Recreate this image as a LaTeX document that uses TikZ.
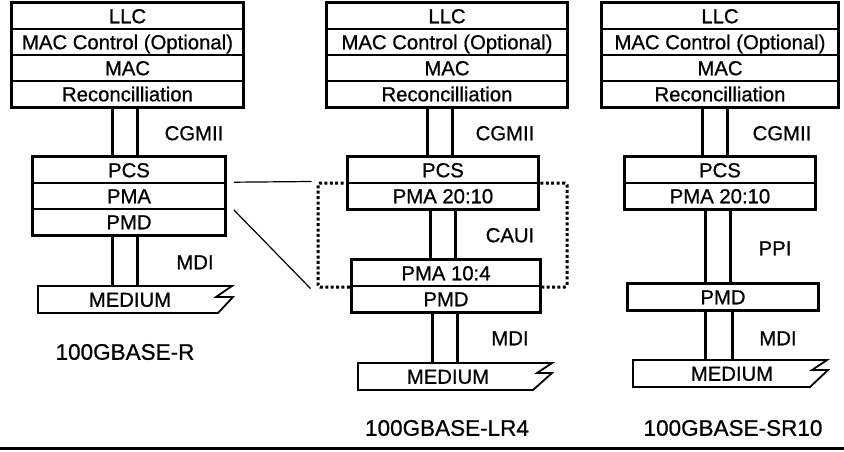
\documentclass[tikz,border=0pt]{standalone}
\usepackage{fontspec}
\setmainfont{Liberation Sans}
\newfontfamily\scanfont{Liberation Sans}[FakeBold=0.7]
\usetikzlibrary{calc}
\tikzset{
  lay/.style={draw, line width=1.6pt, fill=white, inner sep=0pt, minimum height=26pt,
    text height=14.5pt, text depth=0pt, font=\scanfont\fontsize{20.3}{21}\selectfont},
  stackframe/.style={draw, line width=3pt},
  lnk/.style={line width=3pt},
  lbl/.style={font=\scanfont\fontsize{20.3}{21}\selectfont, inner sep=0pt, text height=14.5pt, text depth=0pt},
  capt/.style={font=\scanfont\fontsize{22.5}{24}\selectfont, inner sep=0pt},
  medline/.style={line width=1.8pt, line join=miter},
  dotbox/.style={draw, line width=3pt, dash pattern=on 3pt off 2.4pt, rounded corners=2pt,
    minimum width=249pt, minimum height=104pt, inner sep=0pt},
  zoomline/.style={line width=1.2pt},
}
\begin{document}
\begin{tikzpicture}[x=1pt,y=-1pt]
\useasboundingbox (0,0) rectangle (844,451);

% ---------------- left column: 100GBASE-R ----------------
\node[lay, minimum width=231pt] (llc1)  at (127.5,16) {LLC};
\node[lay, minimum width=231pt] (macc1) at (127.5,42) {MAC Control (Optional)};
\node[lay, minimum width=231pt] (mac1)  at (127.5,68) {MAC};
\node[lay, minimum width=231pt] (rec1)  at (127.5,94) {Reconcilliation};
\draw[stackframe] (llc1.north west) rectangle (rec1.south east);

\node[lay, minimum width=192pt] (pcs1) at (129,170) {PCS};
\node[lay, minimum width=192pt] (pma1) at (129,196) {PMA};
\node[lay, minimum width=192pt] (pmd1) at (129,222) {PMD};
\draw[stackframe] (pcs1.north west) rectangle (pmd1.south east);

\coordinate (a1) at (112,0);
\coordinate (b1) at (137,0);
\coordinate (m1) at (38,286);
\draw[lnk] (rec1.south -| a1) -- (pcs1.north -| a1);
\draw[lnk] (rec1.south -| b1) -- (pcs1.north -| b1);
\draw[lnk] (pmd1.south -| a1) -- (m1 -| a1);
\draw[lnk] (pmd1.south -| b1) -- (m1 -| b1);
\draw[medline] (m1) -- (232,286) -- (216,297) -- (233,297) -- (218,313) -- (38,313) -- cycle;
\node[lbl] (med1) at (130,299.5) {MEDIUM};

\node[lbl] (cgmii1) at (194,133) {CGMII};
\node[lbl] (mdi1)   at (195,262) {MDI};
\node[capt] (name1) at (125,352) {100GBASE-R};

% ---------------- middle column: 100GBASE-LR4 ----------------
\node[dotbox] (zoombox) at (442.5,235) {};

\node[lay, minimum width=240pt] (llc2)  at (447,16) {LLC};
\node[lay, minimum width=240pt] (macc2) at (447,42) {MAC Control (Optional)};
\node[lay, minimum width=240pt] (mac2)  at (447,68) {MAC};
\node[lay, minimum width=240pt] (rec2)  at (447,94) {Reconcilliation};
\draw[stackframe] (llc2.north west) rectangle (rec2.south east);

\node[lay, minimum width=190pt] (pcs2) at (443,170) {PCS};
\node[lay, minimum width=190pt] (pmaa2) at (443,196) {PMA 20:10};
\draw[stackframe] (pcs2.north west) rectangle (pmaa2.south east);

\node[lay, minimum width=188pt] (pmab2) at (446,273) {PMA 10:4};
\node[lay, minimum width=188pt] (pmd2) at (446,299) {PMD};
\draw[stackframe] (pmab2.north west) rectangle (pmd2.south east);

\coordinate (a2) at (427,0);
\coordinate (b2) at (452,0);
\coordinate (c2) at (430,0);
\coordinate (d2) at (455,0);
\coordinate (e2) at (432,0);
\coordinate (f2) at (457,0);
\coordinate (m2) at (358,363);
\draw[lnk] (rec2.south -| a2) -- (pcs2.north -| a2);
\draw[lnk] (rec2.south -| b2) -- (pcs2.north -| b2);
\draw[lnk] (pmaa2.south -| c2) -- (pmab2.north -| c2);
\draw[lnk] (pmaa2.south -| d2) -- (pmab2.north -| d2);
\draw[lnk] (pmd2.south -| e2) -- (m2 -| e2);
\draw[lnk] (pmd2.south -| f2) -- (m2 -| f2);
\draw[medline] (m2) -- (552,363) -- (537,373) -- (552,373) -- (533,390) -- (358,390) -- cycle;
\node[lbl] (med2) at (448,376.5) {MEDIUM};

\node[lbl] (cgmii2) at (505,133) {CGMII};
\node[lbl] (caui2)  at (510,235) {CAUI};
\node[lbl] (mdi2)   at (510,338) {MDI};
\node[capt] (name2) at (447,428) {100GBASE-LR4};

% zoom connectors from left PMA to dotted box
\draw[zoomline] ([xshift=8pt]pma1.north east) -- ([xshift=-5pt]zoombox.north west);
\draw[zoomline] ([xshift=8pt]pma1.south east) -- ([xshift=-6pt]zoombox.south west);

% ---------------- right column: 100GBASE-SR10 ----------------
\node[lay, minimum width=236pt] (llc3)  at (720,16) {LLC};
\node[lay, minimum width=236pt] (macc3) at (720,42) {MAC Control (Optional)};
\node[lay, minimum width=236pt] (mac3)  at (720,68) {MAC};
\node[lay, minimum width=236pt] (rec3)  at (720,94) {Reconcilliation};
\draw[stackframe] (llc3.north west) rectangle (rec3.south east);

\node[lay, minimum width=190pt] (pcs3) at (720,170) {PCS};
\node[lay, minimum width=190pt] (pma3) at (720,196) {PMA 20:10};
\draw[stackframe] (pcs3.north west) rectangle (pma3.south east);

\node[lay, minimum width=190pt] (pmd3) at (723,297) {PMD};
\draw[stackframe] (pmd3.north west) rectangle (pmd3.south east);

\coordinate (a3) at (702,0);
\coordinate (b3) at (727,0);
\coordinate (c3) at (705,0);
\coordinate (d3) at (730,0);
\coordinate (e3) at (705,0);
\coordinate (f3) at (732,0);
\coordinate (m3) at (633,360);
\draw[lnk] (rec3.south -| a3) -- (pcs3.north -| a3);
\draw[lnk] (rec3.south -| b3) -- (pcs3.north -| b3);
\draw[lnk] (pma3.south -| c3) -- (pmd3.north -| c3);
\draw[lnk] (pma3.south -| d3) -- (pmd3.north -| d3);
\draw[lnk] (pmd3.south -| e3) -- (m3 -| e3);
\draw[lnk] (pmd3.south -| f3) -- (m3 -| f3);
\draw[medline] (m3) -- (827,360) -- (812,370) -- (828,370) -- (810,387) -- (633,387) -- cycle;
\node[lbl] (med3) at (732,373.5) {MEDIUM};

\node[lbl] (cgmii3) at (782,133) {CGMII};
\node[lbl] (ppi3)   at (775,248) {PPI};
\node[lbl] (mdi3)   at (778,338) {MDI};
\node[capt] (name3) at (733,428) {100GBASE-SR10};

% bottom rule
\coordinate (rl) at (0,448);
\coordinate (rr) at (844,448);
\draw[line width=3pt] (rl) -- (rr);
\end{tikzpicture}
\end{document}
